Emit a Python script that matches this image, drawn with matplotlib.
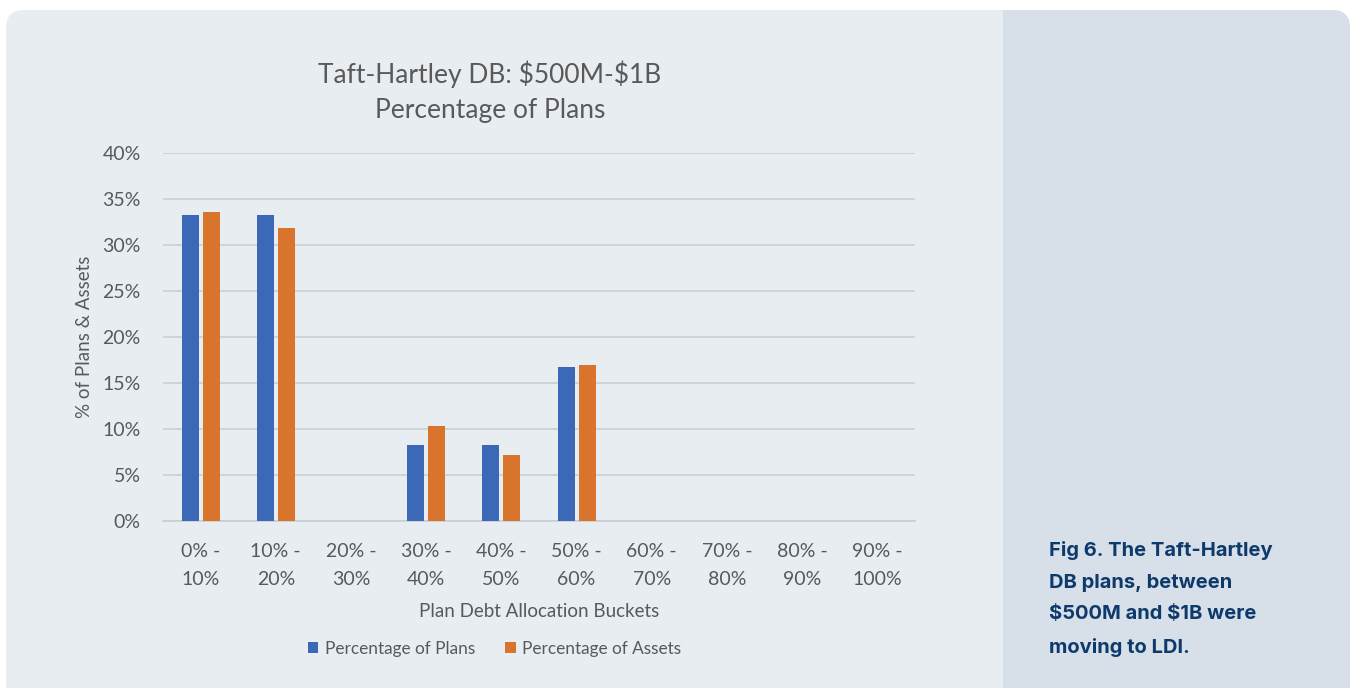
import numpy as np
import matplotlib
matplotlib.use('Agg')
import matplotlib.pyplot as plt
from matplotlib.patches import FancyBboxPatch, Rectangle

# data
buckets = ['0% -\n10%', '10% -\n20%', '20% -\n30%', '30% -\n40%', '40% -\n50%',
           '50% -\n60%', '60% -\n70%', '70% -\n80%', '80% -\n90%', '90% -\n100%']
pct_plans = [33.3, 33.3, 0, 8.3, 8.3, 16.7, 0, 0, 0, 0]
pct_assets = [33.6, 31.9, 0, 10.3, 7.2, 17.0, 0, 0, 0, 0]
caption = 'Fig 6. The Taft-Hartley\nDB plans, between\n\\$500M and \\$1B were\nmoving to LDI.'

W, H = 1354, 688
plt.rcParams['font.family'] = ['Lato', 'DejaVu Sans']
txt = '#595959'

fig = plt.figure(figsize=(W / 100, H / 100), dpi=100)
fig.patch.set_facecolor('white')

# card background (pixel coords)
bg = fig.add_axes([0, 0, 1, 1])
bg.set_xlim(0, W)
bg.set_ylim(H, 0)
bg.axis('off')
bg.add_patch(FancyBboxPatch((6, 10), 1344, 720, boxstyle='round,pad=0,rounding_size=18',
                            fc='#e8edf2', ec='none'))
bg.add_patch(FancyBboxPatch((1003, 10), 347, 720, boxstyle='round,pad=0,rounding_size=18',
                            fc='#d7dfe8', ec='none'))
bg.add_patch(Rectangle((1003, 10), 60, 720, fc='#d7dfe8', ec='none'))
bg.text(1049, 599, caption, color='#0d3a6b', fontsize=14.5, fontweight='bold',
        family=['Inter', 'DejaVu Sans'], va='center', ha='left', linespacing=1.97)

ax = fig.add_axes([163 / W, 167 / H, 752 / W, 368 / H])
ax.set_facecolor('none')
x = np.arange(len(buckets))
w = 0.226
ax.bar(x - 0.14, pct_plans, w, color='#3c68b8', label='Percentage of Plans', zorder=3)
ax.bar(x + 0.14, pct_assets, w, color='#d8742c', label='Percentage of Assets', zorder=3)

ax.set_xlim(-0.5, len(buckets) - 0.5)
ax.set_ylim(0, 40)
ax.set_yticks(range(0, 41, 5))
ax.set_yticklabels([f'{v}%' for v in range(0, 41, 5)])
ax.yaxis.grid(True, color='#c9ced4', linewidth=1.2, zorder=0)
for s in ['top', 'right', 'left']:
    ax.spines[s].set_visible(False)
ax.spines['bottom'].set_color('#c9ced4')
ax.spines['bottom'].set_linewidth(1.2)
ax.tick_params(axis='both', length=0, labelsize=14, colors=txt)
ax.tick_params(axis='x', pad=16)
ax.tick_params(axis='y', pad=16)
ax.set_xticks(x)
ax.set_xticklabels(buckets, linespacing=1.75)

ax.set_title('Taft-Hartley DB: \\$500M-\\$1B\nPercentage of Plans', fontsize=19,
             color=txt, pad=25, linespacing=1.5, x=0.435)
ax.set_xlabel('Plan Debt Allocation Buckets', fontsize=13.5, color=txt, labelpad=11)
ax.set_ylabel('% of Plans & Assets', fontsize=13.5, color=txt, labelpad=7)

ax.legend(loc='upper center', bbox_to_anchor=(0.441, -0.283), ncol=2, frameon=False,
          fontsize=12.4, labelcolor=txt, handlelength=0.6, handleheight=0.6,
          handletextpad=0.4, columnspacing=1.75)

fig.savefig('out.png', dpi=100, facecolor=fig.get_facecolor())
